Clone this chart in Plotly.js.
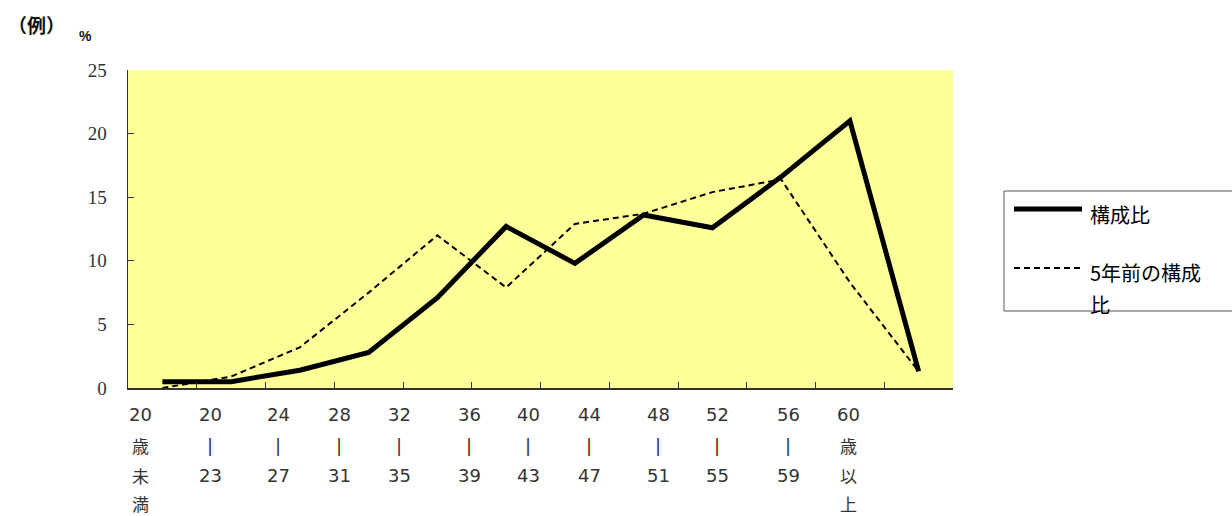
<!DOCTYPE html>
<html>
<head>
<meta charset="utf-8">
<script src="https://cdn.plot.ly/plotly-3.0.1.min.js"></script>
<style>
  html, body { margin: 0; padding: 0; background: #ffffff; }
  #chart { width: 1232px; height: 516px; }
</style>
</head>
<body>
<div id="chart"></div>
<script>
// ---- data ----
const categories = ['20歳未満', '20～23', '24～27', '28～31', '32～35', '36～39',
                    '40～43', '44～47', '48～51', '52～55', '56～59', '60歳以上'];
// tick label rows, as printed under the axis (one column per category)
const tickRow1 = ['20', '20', '24', '28', '32', '36', '40', '44', '48', '52', '56', '60'];
const tickRow2 = ['歳', '|', '|', '|', '|', '|', '|', '|', '|', '|', '|', '歳'];
const tickRow3 = ['未', '23', '27', '31', '35', '39', '43', '47', '51', '55', '59', '以'];
const tickRow4 = ['満', '', '', '', '', '', '', '', '', '', '', '上'];
const seriesNames = ['構成比', '5年前の構成比'];
const current  = [0.5, 0.5, 1.4, 2.8, 7.1, 12.7, 9.8, 13.6, 12.6, 16.6, 21.0, 1.3];
const previous = [0.0, 0.9, 3.2, 7.5, 12.0, 7.9, 12.9, 13.7, 15.4, 16.4, 8.3, 1.3];
const yTicks = [0, 5, 10, 15, 20, 25];

// ---- layout geometry (pixels) ----
const W = 1232, H = 516;
const L = 128, R = 953, T = 70, B = 388;
const pw = R - L, ph = B - T;
const px = x => (x - L) / pw;
const py = y => (B - y) / ph;
// horizontal centres of the printed label columns
const labelCentres = [140, 210, 278, 339, 399, 469, 528, 589, 658, 717, 788, 848];
const rowCentres = [414, 445, 475, 503];

const xIdx = categories.map((_, i) => i);

const traces = [
  {
    x: xIdx, y: current, name: seriesNames[0], type: 'scatter', mode: 'lines',
    line: { color: '#000000', width: 5, shape: 'linear' },
    hoverinfo: 'skip', cliponaxis: false
  },
  {
    x: xIdx, y: previous, name: seriesNames[1], type: 'scatter', mode: 'lines',
    line: { color: '#000000', width: 2, dash: '6px,4px' },
    hoverinfo: 'skip', cliponaxis: false
  }
];

const tickFont = { family: 'DejaVu Sans, Noto Sans CJK JP, sans-serif', size: 18, color: '#333333' };
const cjkTickFont = { family: 'Noto Sans CJK JP, sans-serif', size: 17, color: '#333333' };

const annotations = [];
const rows = [tickRow1, tickRow2, tickRow3, tickRow4];
rows.forEach((row, r) => {
  row.forEach((txt, i) => {
    if (!txt) return;
    const isCjk = /[^\x00-\x7f]/.test(txt);
    annotations.push({
      xref: 'paper', yref: 'paper', x: px(labelCentres[i]), y: py(rowCentres[r]),
      xanchor: 'center', yanchor: 'middle', showarrow: false,
      text: txt,
      font: isCjk ? cjkTickFont : tickFont
    });
  });
});

// top-left texts
annotations.push({
  xref: 'paper', yref: 'paper', x: px(6), y: py(25), xanchor: 'left', yanchor: 'middle',
  showarrow: false, text: '<b>（例）</b>',
  font: { family: 'Noto Sans CJK JP, sans-serif', size: 19, color: '#111111' }
});
annotations.push({
  xref: 'paper', yref: 'paper', x: px(85), y: py(36), xanchor: 'center', yanchor: 'middle',
  showarrow: false, text: '<b>%</b>',
  font: { family: 'Liberation Sans Narrow, Liberation Sans, sans-serif', size: 14, color: '#111111' }
});

// custom legend
const legX0 = 1004, legX1 = 1240, legY0 = 191, legY1 = 311;
const legFont = { family: 'Noto Sans CJK JP, sans-serif', size: 20, color: '#000000' };
const shapes = [
  { type: 'rect', xref: 'paper', yref: 'paper', x0: px(legX0), x1: px(legX1), y0: py(legY1), y1: py(legY0),
    line: { color: '#555555', width: 1 }, fillcolor: 'rgba(255,255,255,0)' },
  { type: 'line', xref: 'paper', yref: 'paper', x0: px(1014), x1: px(1082), y0: py(209), y1: py(209),
    line: { color: '#000000', width: 5 } },
  { type: 'line', xref: 'paper', yref: 'paper', x0: px(1014), x1: px(1082), y0: py(268), y1: py(268),
    line: { color: '#000000', width: 2, dash: '6px,4px' } }
];
annotations.push({
  xref: 'paper', yref: 'paper', x: px(1088), y: py(214), xanchor: 'left', yanchor: 'middle',
  showarrow: false, text: seriesNames[0], font: legFont
});
annotations.push({
  xref: 'paper', yref: 'paper', x: px(1088), y: py(272), xanchor: 'left', yanchor: 'middle',
  showarrow: false, text: seriesNames[1].slice(0, -1), font: legFont
});
annotations.push({
  xref: 'paper', yref: 'paper', x: px(1088), y: py(304), xanchor: 'left', yanchor: 'middle',
  showarrow: false, text: seriesNames[1].slice(-1), font: legFont
});

const layout = {
  width: W, height: H,
  margin: { l: L, r: W - R, t: T, b: H - B, pad: 0 },
  paper_bgcolor: '#ffffff',
  plot_bgcolor: '#ffff99',
  showlegend: false,
  xaxis: {
    type: 'linear', range: [-0.5, 11.5], fixedrange: true,
    tickmode: 'linear', tick0: -0.5, dtick: 1,
    ticks: 'inside', ticklen: 6, tickwidth: 1, tickcolor: '#333333',
    showticklabels: false, showgrid: false, zeroline: false,
    showline: true, linecolor: '#333333', linewidth: 1.5
  },
  yaxis: {
    range: [0, 25], fixedrange: true,
    tickmode: 'array', tickvals: yTicks, ticktext: yTicks.map(String),
    ticks: 'inside', ticklen: 6, tickwidth: 1, tickcolor: '#333333',
    ticklabelstandoff: 16,
    tickfont: { family: 'Liberation Serif, DejaVu Serif, serif', size: 19, color: '#333333' },
    showgrid: false, zeroline: false,
    showline: true, linecolor: '#333333', linewidth: 1.5
  },
  shapes: shapes,
  annotations: annotations
};

Plotly.newPlot('chart', traces, layout, { staticPlot: true, displayModeBar: false });
</script>
</body>
</html>
